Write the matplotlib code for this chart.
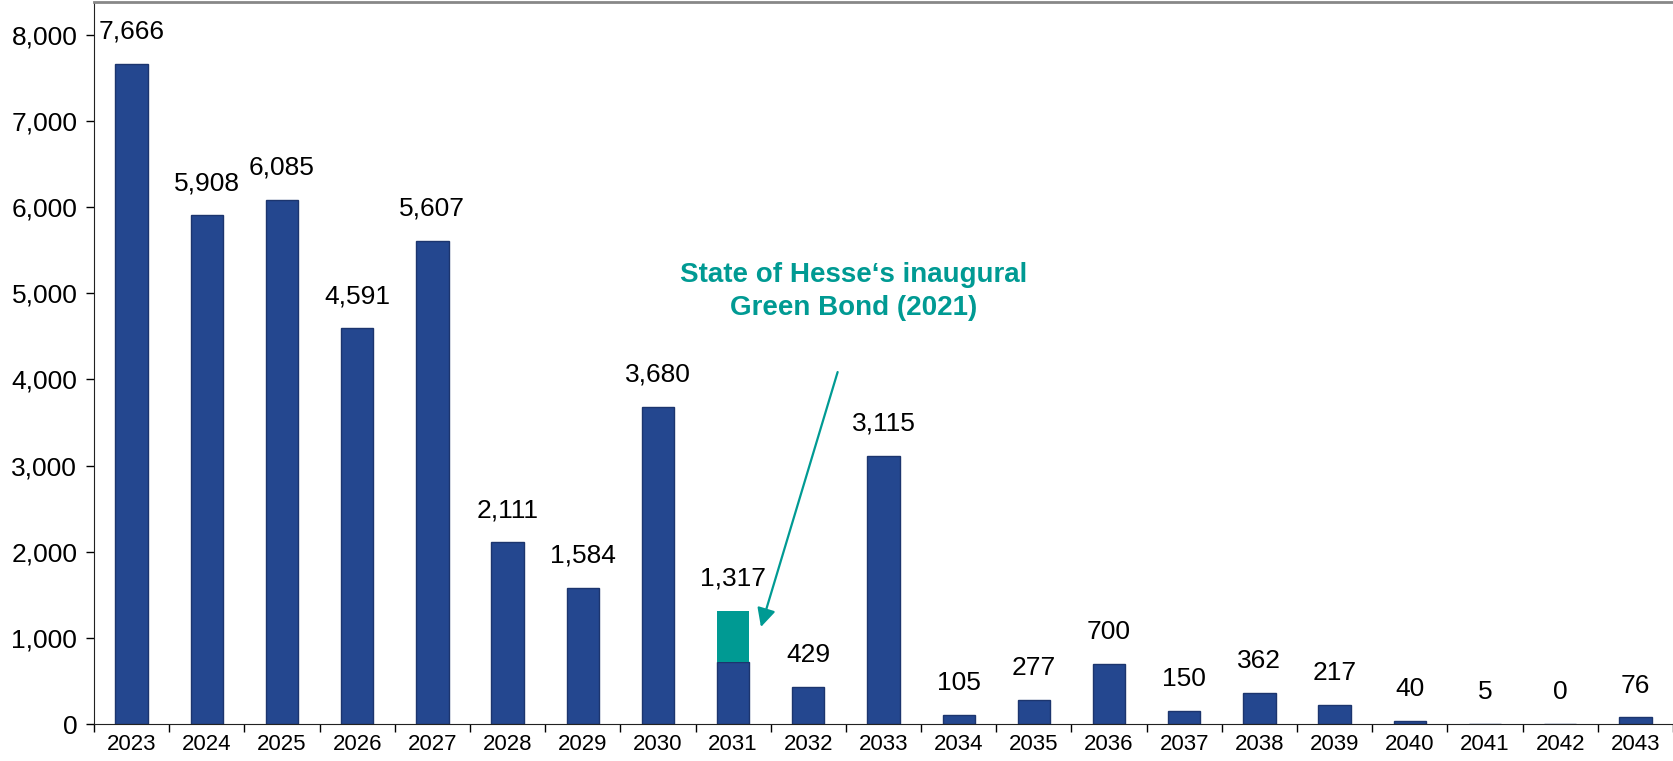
import numpy as np
import matplotlib.pyplot as plt

plt.rcParams['font.family'] = ['Liberation Sans', 'DejaVu Sans']

years = ['2023', '2024', '2025', '2026', '2027', '2028', '2029', '2030', '2031', '2032', '2033',
         '2034', '2035', '2036', '2037', '2038', '2039', '2040', '2041', '2042', '2043']
# total maturities per year
totals = [7666, 5908, 6085, 4591, 5607, 2111, 1584, 3680, 1317, 429, 3115,
          105, 277, 700, 150, 362, 217, 40, 5, 0, 76]
# green bond share (only 2031)
green = [0, 0, 0, 0, 0, 0, 0, 0, 600, 0, 0,
         0, 0, 0, 0, 0, 0, 0, 0, 0, 0]

navy = '#24478F'
teal = '#009A93'

x = np.arange(len(years))
conv = np.array(totals) - np.array(green)

fig = plt.figure(figsize=(16.74, 7.61), dpi=100)
ax = fig.add_axes([94/1674, 1-724/761, 1579/1674, 722/761])

ax.bar(x, conv, width=0.43, color=navy, edgecolor='#1C356E', linewidth=1)
ax.bar(x, green, bottom=conv, width=0.43, color=teal, linewidth=0)

for i, t in enumerate(totals):
    ax.annotate('{:,}'.format(t), (x[i], t), textcoords='offset points', xytext=(0, 23),
                ha='center', va='center', fontsize=19)

ax.text(9.6, 5020, 'State of Hesse\u2018s inaugural\nGreen Bond (2021)',
        ha='center', va='center', fontsize=20, fontweight='bold', color=teal, linespacing=1.35)
ax.annotate('', xy=(8.37, 1126), xytext=(9.39, 4085),
            arrowprops=dict(arrowstyle='-|>', color=teal, lw=1.6, mutation_scale=28,
                            shrinkA=0, shrinkB=0))

ax.set_xlim(-0.5, 20.5)
ax.set_ylim(0, 8380)
ax.set_yticks(np.arange(0, 8001, 1000))
ax.set_yticklabels(['{:,}'.format(v) for v in range(0, 8001, 1000)], fontsize=19)
ax.tick_params(axis='y', direction='out', length=6, width=1, pad=6)

ax.set_xticks(np.arange(-0.5, 20.6, 1))
ax.set_xticklabels([])
ax.set_xticks(x, minor=True)
ax.set_xticklabels(years, minor=True, fontsize=16)
ax.tick_params(axis='x', which='major', direction='out', length=6, width=1)
ax.tick_params(axis='x', which='minor', length=0, pad=7)

ax.spines['right'].set_visible(False)
ax.spines['top'].set_color('#888888')
ax.spines['top'].set_linewidth(2)
ax.spines['left'].set_color('#222222')
ax.spines['bottom'].set_color('#222222')

fig.savefig('out.png', dpi=100)
